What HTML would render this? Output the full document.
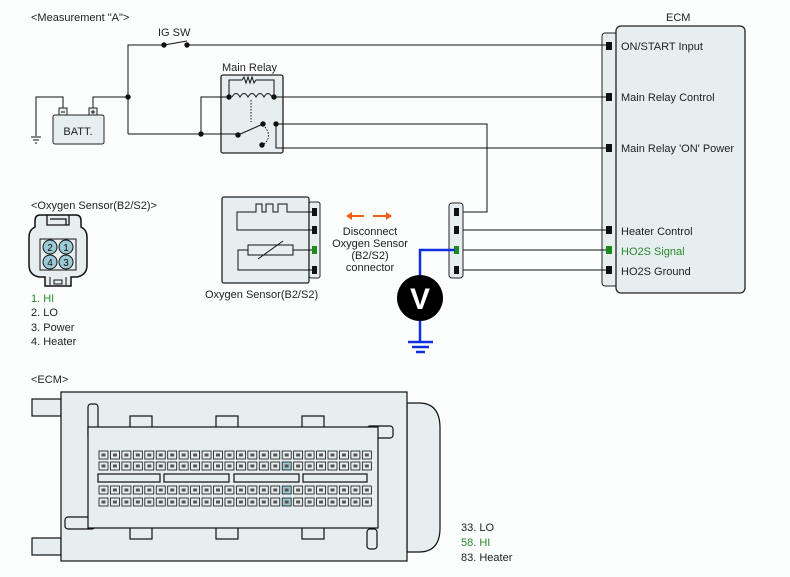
<!DOCTYPE html>
<html><head><meta charset="utf-8"><style>
html,body{margin:0;padding:0;background:#fcfdfd;}
svg{display:block;font-family:"Liberation Sans",sans-serif;}
</style></head><body>
<svg width="790" height="577" viewBox="0 0 790 577" xmlns="http://www.w3.org/2000/svg">
<rect width="790" height="577" fill="#fcfdfd"/>
<!-- ECM box -->
<rect x="602" y="33" width="20" height="253" rx="3" fill="#e6eef0" stroke="#222"/>
<rect x="616" y="26" width="129" height="267" rx="5" fill="#e6eef0" stroke="#222" stroke-width="1.3"/>
<g fill="#111">
<rect x="606" y="42" width="6" height="8"/><rect x="606" y="93" width="6" height="8"/><rect x="606" y="144" width="6" height="8"/>
<rect x="606" y="226" width="6" height="8"/><rect x="606" y="246" width="6" height="8" fill="#1a8a1a"/><rect x="606" y="266" width="6" height="8"/>
</g>
<g stroke="#111" fill="none" stroke-width="1">
<polyline points="128,134 128,45 164,45"/>
<line x1="187" y1="45" x2="606" y2="45"/>
<line x1="164" y1="45" x2="187" y2="41"/>
<polyline points="93,108 93,97 128,97"/>
<polyline points="63,108 63,97 36,97 36,136"/>
<line x1="31" y1="137" x2="41" y2="137"/><line x1="33" y1="140" x2="39" y2="140"/><line x1="35" y1="143" x2="37" y2="143"/>
<line x1="128" y1="134" x2="238" y2="134"/>
<polyline points="229,97 201,97 201,134"/>
<line x1="274" y1="97" x2="606" y2="97"/>
<polyline points="276,124 487,124 487,212 459,212"/>
<polyline points="276,124 276,148 606,148"/>
<line x1="459" y1="230" x2="606" y2="230"/>
<line x1="459" y1="250" x2="606" y2="250"/>
<line x1="459" y1="270" x2="606" y2="270"/>
</g>
<rect x="221" y="75" width="62" height="78" rx="2" fill="#e6eef0" stroke="#222" stroke-width="1.3"/>
<g stroke="#111" fill="none">
<polyline points="229,97 229,80 242,80 244,77 246,83 248,77 250,83 252,77 254,83 256,80 274,80 274,97"/>
<path d="M232,97 q4,-7 8,0 q4,-7 8,0 q4,-7 8,0 q4,-7 8,0 q4,-7 8,0"/>
<line x1="251" y1="100" x2="251" y2="122" stroke-dasharray="1.5,1.5"/>
<line x1="238" y1="135" x2="263" y2="124"/>
<path d="M265,127 q8,10 -2,18" stroke-dasharray="1.5,1.5"/>
<line x1="201" y1="134" x2="238" y2="134"/>
<line x1="201" y1="97" x2="229" y2="97"/>
<line x1="274" y1="97" x2="283" y2="97"/>
<polyline points="276,124 283,124"/><polyline points="276,124 276,148 283,148"/>
</g>
<g fill="#111">
<circle cx="164" cy="45" r="2.7"/><circle cx="187" cy="45" r="2.7"/>
<circle cx="128" cy="97" r="2.7"/><circle cx="201" cy="134" r="2.7"/>
<circle cx="229" cy="97" r="2.7"/><circle cx="274" cy="97" r="2.7"/>
<circle cx="238" cy="135" r="2.7"/><circle cx="263" cy="124" r="2.7"/><circle cx="276" cy="124" r="2.7"/><circle cx="262" cy="145" r="2.7"/>
</g>
<!-- Battery -->
<rect x="53" y="115" width="51" height="29" rx="2" fill="#e6eef0" stroke="#222"/>
<rect x="59" y="108" width="8" height="7" fill="#e6eef0" stroke="#222"/>
<rect x="89" y="108" width="8" height="7" fill="#e6eef0" stroke="#222"/>
<line x1="61" y1="112" x2="65" y2="112" stroke="#111"/>
<line x1="91" y1="112" x2="95" y2="112" stroke="#111"/><line x1="93" y1="110" x2="93" y2="114" stroke="#111"/>
<text x="78" y="135" font-size="11" text-anchor="middle" fill="#222">BATT.</text>
<!-- Oxygen sensor -->
<rect x="309" y="202" width="11" height="76" rx="2" fill="#e6eef0" stroke="#222"/>
<rect x="222" y="197" width="87" height="86" rx="2" fill="#e6eef0" stroke="#222" stroke-width="1.3"/>
<g stroke="#111" fill="none">
<polyline points="312,212 287,212 287,204 278,204 278,212 273,212 273,204 266,204 266,212 262,212 262,204 256,204 256,212 237,212 237,230 312,230"/>
<rect x="248" y="245" width="45" height="10"/>
<line x1="293" y1="250" x2="312" y2="250"/>
<polyline points="248,250 238,250 238,270 312,270"/>
<line x1="258" y1="259" x2="283" y2="241"/>
</g>
<g fill="#111"><rect x="312" y="208" width="5" height="8"/><rect x="312" y="226" width="5" height="8"/><rect x="312" y="246" width="5" height="8" fill="#1a8a1a"/><rect x="312" y="266" width="5" height="8"/></g>
<!-- arrows -->
<g stroke="#f06010" stroke-width="2" fill="#f06010">
<line x1="350" y1="216" x2="364" y2="216"/><polygon points="346,216 352,212 352,220" stroke="none"/>
<line x1="373" y1="216" x2="388" y2="216"/><polygon points="392,216 386,212 386,220" stroke="none"/>
</g>
<!-- small connector -->
<rect x="449" y="203" width="14" height="75" rx="3" fill="#e6eef0" stroke="#222"/>
<g fill="#111"><rect x="454" y="208" width="5" height="8"/><rect x="454" y="226" width="5" height="8"/><rect x="454" y="246" width="5" height="8" fill="#1a8a1a"/><rect x="454" y="266" width="5" height="8"/></g>
<!-- voltmeter -->
<g stroke="#1030e0" stroke-width="2.5" fill="none">
<polyline points="455,250 420,250 420,280"/>
<line x1="420" y1="318" x2="420" y2="341"/>
<line x1="408" y1="342" x2="433" y2="342"/><line x1="412" y1="347" x2="429" y2="347"/><line x1="416" y1="352" x2="425" y2="352"/>
</g>
<circle cx="420" cy="298" r="23" fill="#000"/>
<text x="420" y="309" font-size="30" font-weight="bold" fill="#fff" text-anchor="middle">V</text>
<!-- O2 connector icon -->
<path d="M40,215 h36 q5,0 5,6 v6 q6,3 6,10 v28 q0,10 -10,12 h-6 v9 h-26 v-9 h-6 q-10,-2 -10,-12 v-28 q0,-7 6,-10 v-6 q0,-6 5,-6 z" fill="#e6eef0" stroke="#111" stroke-width="1.5"/>
<path d="M47,215 v10 h22 v-10 M50,219 h16 v6" fill="none" stroke="#111" stroke-width="1.3"/>
<rect x="40" y="239" width="36" height="31" fill="none" stroke="#111"/>
<path d="M50,277 v8 M66,277 v8 M54,280 h8 v4 h-8z" fill="none" stroke="#111"/>
<g fill="#9ccbd6" stroke="#111"><circle cx="50" cy="247" r="7"/><circle cx="66" cy="247" r="7"/><circle cx="50" cy="262" r="7"/><circle cx="66" cy="262" r="7"/></g>
<g font-size="10" fill="#111" text-anchor="middle"><text x="50" y="251">2</text><text x="66" y="251">1</text><text x="50" y="266">4</text><text x="66" y="266">3</text></g>
<!-- ECM bottom -->
<g stroke="#111" fill="#e6eef0" stroke-width="1.2">
<path d="M407,403 h12 q21,0 21,25 v100 q0,24 -21,24 h-12 z"/>
<rect x="32" y="399" width="29" height="17"/>
<rect x="32" y="538" width="29" height="17"/>
<rect x="61" y="392" width="346" height="169"/>
<rect x="88" y="404" width="10" height="35" rx="3"/>
<rect x="367" y="426" width="26" height="12" rx="3"/>
<rect x="65" y="517" width="30" height="12" rx="3"/>
<rect x="367" y="529" width="10" height="20" rx="3"/>
<rect x="130" y="416" width="22" height="12"/><rect x="216" y="416" width="22" height="12"/><rect x="302" y="416" width="22" height="12"/>
<rect x="130" y="527" width="22" height="12"/><rect x="216" y="527" width="22" height="12"/><rect x="302" y="527" width="22" height="12"/>
<rect x="88" y="427" width="290" height="101"/>
<rect x="98" y="474" width="62" height="8"/><rect x="164" y="474" width="65" height="8"/><rect x="234" y="474" width="65" height="8"/><rect x="303" y="474" width="64" height="8"/>
</g>
<g id="pins" stroke="#111" stroke-width="0.8" fill="#e6eef0"></g>
<script>
var g=document.getElementById('pins'),ns='http://www.w3.org/2000/svg';
var rows=[451,462,486,498];
var hl={'1,16':1,'2,16':1,'3,16':1};
for(var r=0;r<4;r++)for(var i=0;i<24;i++){var e=document.createElementNS(ns,'rect');
e.setAttribute('x',99+i*11.45);e.setAttribute('y',rows[r]);e.setAttribute('width',9);e.setAttribute('height',8);
if(hl[r+','+i])e.setAttribute('fill','#9ccbd6');g.appendChild(e);
var d=document.createElementNS(ns,'rect');d.setAttribute('x',101.5+i*11.45);d.setAttribute('y',rows[r]+2.5);d.setAttribute('width',4);d.setAttribute('height',3);d.setAttribute('fill','#555');d.setAttribute('stroke','none');g.appendChild(d);}
</script>
<g font-size="11" fill="#222">
<text x="31" y="21">&lt;Measurement "A"&gt;</text>
<text x="158" y="36">IG SW</text>
<text x="222" y="71">Main Relay</text>
<text x="666" y="21">ECM</text>
<text x="31" y="209">&lt;Oxygen Sensor(B2/S2)&gt;</text>
<text x="205" y="298">Oxygen Sensor(B2/S2)</text>
<text x="370" y="235" text-anchor="middle">Disconnect</text>
<text x="370" y="247" text-anchor="middle">Oxygen Sensor</text>
<text x="370" y="259" text-anchor="middle">(B2/S2)</text>
<text x="370" y="271" text-anchor="middle">connector</text>
<text x="31" y="302" fill="#2a8a2a">1. HI</text>
<text x="31" y="316">2. LO</text>
<text x="31" y="331">3. Power</text>
<text x="31" y="345">4. Heater</text>
<text x="31" y="383">&lt;ECM&gt;</text>
<text x="461" y="531">33. LO</text>
<text x="461" y="546" fill="#2a8a2a">58. HI</text>
<text x="461" y="561">83. Heater</text>
<text x="621" y="50">ON/START Input</text>
<text x="621" y="101">Main Relay Control</text>
<text x="621" y="152">Main Relay 'ON' Power</text>
<text x="621" y="235">Heater Control</text>
<text x="621" y="255" fill="#2a8a2a">HO2S  Signal</text>
<text x="621" y="275">HO2S  Ground</text>
</g>
</svg>
</body></html>
